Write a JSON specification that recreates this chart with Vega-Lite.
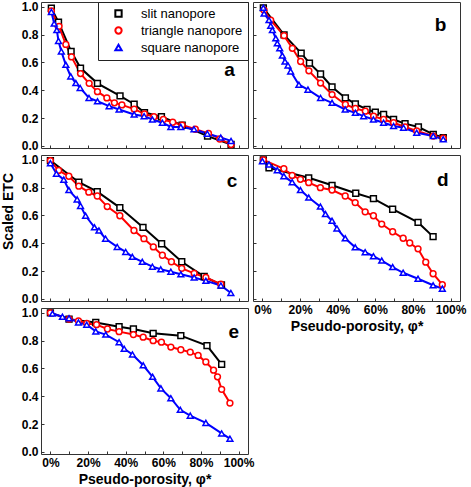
{
  "$schema": "https://vega.github.io/schema/vega-lite/v6.json",
  "padding": {"left": 0, "top": 0, "right": 0, "bottom": 0},
  "background": "white",
  "datasets": {
    "etc": [
      {"panel":"a","series":"slit nanopore","x":0.005,"y":0.99},
      {"panel":"a","series":"slit nanopore","x":0.043,"y":0.89},
      {"panel":"a","series":"slit nanopore","x":0.11,"y":0.68},
      {"panel":"a","series":"slit nanopore","x":0.16,"y":0.56},
      {"panel":"a","series":"slit nanopore","x":0.25,"y":0.45},
      {"panel":"a","series":"slit nanopore","x":0.37,"y":0.36},
      {"panel":"a","series":"slit nanopore","x":0.445,"y":0.30},
      {"panel":"a","series":"slit nanopore","x":0.50,"y":0.24},
      {"panel":"a","series":"slit nanopore","x":0.59,"y":0.21},
      {"panel":"a","series":"slit nanopore","x":0.70,"y":0.15},
      {"panel":"a","series":"slit nanopore","x":0.835,"y":0.07},
      {"panel":"a","series":"slit nanopore","x":0.96,"y":0.01},
      {"panel":"a","series":"triangle nanopore","x":0.005,"y":0.97},
      {"panel":"a","series":"triangle nanopore","x":0.046,"y":0.86},
      {"panel":"a","series":"triangle nanopore","x":0.082,"y":0.73},
      {"panel":"a","series":"triangle nanopore","x":0.112,"y":0.64},
      {"panel":"a","series":"triangle nanopore","x":0.16,"y":0.52},
      {"panel":"a","series":"triangle nanopore","x":0.206,"y":0.45},
      {"panel":"a","series":"triangle nanopore","x":0.25,"y":0.39},
      {"panel":"a","series":"triangle nanopore","x":0.30,"y":0.345},
      {"panel":"a","series":"triangle nanopore","x":0.34,"y":0.31},
      {"panel":"a","series":"triangle nanopore","x":0.38,"y":0.295},
      {"panel":"a","series":"triangle nanopore","x":0.445,"y":0.265},
      {"panel":"a","series":"triangle nanopore","x":0.50,"y":0.23},
      {"panel":"a","series":"triangle nanopore","x":0.55,"y":0.21},
      {"panel":"a","series":"triangle nanopore","x":0.60,"y":0.19},
      {"panel":"a","series":"triangle nanopore","x":0.65,"y":0.17},
      {"panel":"a","series":"triangle nanopore","x":0.70,"y":0.15},
      {"panel":"a","series":"triangle nanopore","x":0.77,"y":0.12},
      {"panel":"a","series":"triangle nanopore","x":0.84,"y":0.09},
      {"panel":"a","series":"triangle nanopore","x":0.90,"y":0.05},
      {"panel":"a","series":"triangle nanopore","x":0.96,"y":0.01},
      {"panel":"a","series":"square nanopore","x":0.005,"y":0.964},
      {"panel":"a","series":"square nanopore","x":0.02,"y":0.88},
      {"panel":"a","series":"square nanopore","x":0.034,"y":0.833},
      {"panel":"a","series":"square nanopore","x":0.043,"y":0.755},
      {"panel":"a","series":"square nanopore","x":0.058,"y":0.68},
      {"panel":"a","series":"square nanopore","x":0.082,"y":0.583},
      {"panel":"a","series":"square nanopore","x":0.108,"y":0.50},
      {"panel":"a","series":"square nanopore","x":0.135,"y":0.452},
      {"panel":"a","series":"square nanopore","x":0.158,"y":0.417},
      {"panel":"a","series":"square nanopore","x":0.205,"y":0.345},
      {"panel":"a","series":"square nanopore","x":0.25,"y":0.321},
      {"panel":"a","series":"square nanopore","x":0.312,"y":0.286},
      {"panel":"a","series":"square nanopore","x":0.365,"y":0.262},
      {"panel":"a","series":"square nanopore","x":0.445,"y":0.226},
      {"panel":"a","series":"square nanopore","x":0.498,"y":0.214},
      {"panel":"a","series":"square nanopore","x":0.542,"y":0.19},
      {"panel":"a","series":"square nanopore","x":0.595,"y":0.167},
      {"panel":"a","series":"square nanopore","x":0.64,"y":0.136},
      {"panel":"a","series":"square nanopore","x":0.693,"y":0.136},
      {"panel":"a","series":"square nanopore","x":0.763,"y":0.12},
      {"panel":"a","series":"square nanopore","x":0.834,"y":0.088},
      {"panel":"a","series":"square nanopore","x":0.905,"y":0.06},
      {"panel":"a","series":"square nanopore","x":0.96,"y":0.036},

      {"panel":"b","series":"slit nanopore","x":0.005,"y":0.993},
      {"panel":"b","series":"slit nanopore","x":0.115,"y":0.798},
      {"panel":"b","series":"slit nanopore","x":0.206,"y":0.667},
      {"panel":"b","series":"slit nanopore","x":0.25,"y":0.595},
      {"panel":"b","series":"slit nanopore","x":0.309,"y":0.517},
      {"panel":"b","series":"slit nanopore","x":0.37,"y":0.424},
      {"panel":"b","series":"slit nanopore","x":0.441,"y":0.345},
      {"panel":"b","series":"slit nanopore","x":0.494,"y":0.302},
      {"panel":"b","series":"slit nanopore","x":0.556,"y":0.262},
      {"panel":"b","series":"slit nanopore","x":0.60,"y":0.243},
      {"panel":"b","series":"slit nanopore","x":0.644,"y":0.226},
      {"panel":"b","series":"slit nanopore","x":0.697,"y":0.19},
      {"panel":"b","series":"slit nanopore","x":0.758,"y":0.16},
      {"panel":"b","series":"slit nanopore","x":0.829,"y":0.136},
      {"panel":"b","series":"slit nanopore","x":0.908,"y":0.083},
      {"panel":"b","series":"slit nanopore","x":0.961,"y":0.06},
      {"panel":"b","series":"triangle nanopore","x":0.009,"y":0.976},
      {"panel":"b","series":"triangle nanopore","x":0.044,"y":0.905},
      {"panel":"b","series":"triangle nanopore","x":0.115,"y":0.793},
      {"panel":"b","series":"triangle nanopore","x":0.159,"y":0.702},
      {"panel":"b","series":"triangle nanopore","x":0.203,"y":0.607},
      {"panel":"b","series":"triangle nanopore","x":0.247,"y":0.54},
      {"panel":"b","series":"triangle nanopore","x":0.309,"y":0.452},
      {"panel":"b","series":"triangle nanopore","x":0.37,"y":0.369},
      {"panel":"b","series":"triangle nanopore","x":0.441,"y":0.298},
      {"panel":"b","series":"triangle nanopore","x":0.494,"y":0.269},
      {"panel":"b","series":"triangle nanopore","x":0.547,"y":0.25},
      {"panel":"b","series":"triangle nanopore","x":0.591,"y":0.214},
      {"panel":"b","series":"triangle nanopore","x":0.644,"y":0.19},
      {"panel":"b","series":"triangle nanopore","x":0.697,"y":0.167},
      {"panel":"b","series":"triangle nanopore","x":0.758,"y":0.136},
      {"panel":"b","series":"triangle nanopore","x":0.82,"y":0.107},
      {"panel":"b","series":"triangle nanopore","x":0.908,"y":0.071},
      {"panel":"b","series":"triangle nanopore","x":0.961,"y":0.055},
      {"panel":"b","series":"square nanopore","x":0.005,"y":0.993},
      {"panel":"b","series":"square nanopore","x":0.009,"y":0.952},
      {"panel":"b","series":"square nanopore","x":0.035,"y":0.905},
      {"panel":"b","series":"square nanopore","x":0.044,"y":0.864},
      {"panel":"b","series":"square nanopore","x":0.053,"y":0.833},
      {"panel":"b","series":"square nanopore","x":0.071,"y":0.774},
      {"panel":"b","series":"square nanopore","x":0.079,"y":0.738},
      {"panel":"b","series":"square nanopore","x":0.092,"y":0.702},
      {"panel":"b","series":"square nanopore","x":0.106,"y":0.65},
      {"panel":"b","series":"square nanopore","x":0.12,"y":0.607},
      {"panel":"b","series":"square nanopore","x":0.136,"y":0.579},
      {"panel":"b","series":"square nanopore","x":0.15,"y":0.536},
      {"panel":"b","series":"square nanopore","x":0.194,"y":0.44},
      {"panel":"b","series":"square nanopore","x":0.242,"y":0.405},
      {"panel":"b","series":"square nanopore","x":0.309,"y":0.345},
      {"panel":"b","series":"square nanopore","x":0.37,"y":0.31},
      {"panel":"b","series":"square nanopore","x":0.44,"y":0.262},
      {"panel":"b","series":"square nanopore","x":0.494,"y":0.238},
      {"panel":"b","series":"square nanopore","x":0.538,"y":0.214},
      {"panel":"b","series":"square nanopore","x":0.59,"y":0.19},
      {"panel":"b","series":"square nanopore","x":0.644,"y":0.167},
      {"panel":"b","series":"square nanopore","x":0.697,"y":0.143},
      {"panel":"b","series":"square nanopore","x":0.75,"y":0.131},
      {"panel":"b","series":"square nanopore","x":0.82,"y":0.095},
      {"panel":"b","series":"square nanopore","x":0.908,"y":0.071},
      {"panel":"b","series":"square nanopore","x":0.961,"y":0.048},

      {"panel":"c","series":"slit nanopore","x":0.0,"y":0.995},
      {"panel":"c","series":"slit nanopore","x":0.151,"y":0.839},
      {"panel":"c","series":"slit nanopore","x":0.249,"y":0.771},
      {"panel":"c","series":"slit nanopore","x":0.369,"y":0.657},
      {"panel":"c","series":"slit nanopore","x":0.492,"y":0.515},
      {"panel":"c","series":"slit nanopore","x":0.591,"y":0.397},
      {"panel":"c","series":"slit nanopore","x":0.698,"y":0.267},
      {"panel":"c","series":"slit nanopore","x":0.817,"y":0.161},
      {"panel":"c","series":"slit nanopore","x":0.909,"y":0.10},
      {"panel":"c","series":"triangle nanopore","x":0.0,"y":0.995},
      {"panel":"c","series":"triangle nanopore","x":0.044,"y":0.924},
      {"panel":"c","series":"triangle nanopore","x":0.098,"y":0.882},
      {"panel":"c","series":"triangle nanopore","x":0.151,"y":0.811},
      {"panel":"c","series":"triangle nanopore","x":0.204,"y":0.768},
      {"panel":"c","series":"triangle nanopore","x":0.249,"y":0.74},
      {"panel":"c","series":"triangle nanopore","x":0.302,"y":0.664},
      {"panel":"c","series":"triangle nanopore","x":0.369,"y":0.598},
      {"panel":"c","series":"triangle nanopore","x":0.444,"y":0.492},
      {"panel":"c","series":"triangle nanopore","x":0.497,"y":0.433},
      {"panel":"c","series":"triangle nanopore","x":0.547,"y":0.374},
      {"panel":"c","series":"triangle nanopore","x":0.595,"y":0.314},
      {"panel":"c","series":"triangle nanopore","x":0.643,"y":0.267},
      {"panel":"c","series":"triangle nanopore","x":0.698,"y":0.22},
      {"panel":"c","series":"triangle nanopore","x":0.764,"y":0.184},
      {"panel":"c","series":"triangle nanopore","x":0.826,"y":0.154},
      {"panel":"c","series":"triangle nanopore","x":0.906,"y":0.106},
      {"panel":"c","series":"square nanopore","x":0.0,"y":0.976},
      {"panel":"c","series":"square nanopore","x":0.032,"y":0.901},
      {"panel":"c","series":"square nanopore","x":0.071,"y":0.858},
      {"panel":"c","series":"square nanopore","x":0.098,"y":0.783},
      {"panel":"c","series":"square nanopore","x":0.142,"y":0.716},
      {"panel":"c","series":"square nanopore","x":0.16,"y":0.669},
      {"panel":"c","series":"square nanopore","x":0.187,"y":0.598},
      {"panel":"c","series":"square nanopore","x":0.234,"y":0.515},
      {"panel":"c","series":"square nanopore","x":0.258,"y":0.492},
      {"panel":"c","series":"square nanopore","x":0.293,"y":0.433},
      {"panel":"c","series":"square nanopore","x":0.355,"y":0.374},
      {"panel":"c","series":"square nanopore","x":0.40,"y":0.338},
      {"panel":"c","series":"square nanopore","x":0.435,"y":0.303},
      {"panel":"c","series":"square nanopore","x":0.488,"y":0.267},
      {"panel":"c","series":"square nanopore","x":0.542,"y":0.232},
      {"panel":"c","series":"square nanopore","x":0.586,"y":0.213},
      {"panel":"c","series":"square nanopore","x":0.64,"y":0.196},
      {"panel":"c","series":"square nanopore","x":0.693,"y":0.177},
      {"panel":"c","series":"square nanopore","x":0.764,"y":0.154},
      {"panel":"c","series":"square nanopore","x":0.826,"y":0.13},
      {"panel":"c","series":"square nanopore","x":0.906,"y":0.097},
      {"panel":"c","series":"square nanopore","x":0.959,"y":0.043},

      {"panel":"d","series":"slit nanopore","x":0.005,"y":1.0},
      {"panel":"d","series":"slit nanopore","x":0.035,"y":0.943},
      {"panel":"d","series":"slit nanopore","x":0.246,"y":0.871},
      {"panel":"d","series":"slit nanopore","x":0.37,"y":0.817},
      {"panel":"d","series":"slit nanopore","x":0.496,"y":0.76},
      {"panel":"d","series":"slit nanopore","x":0.59,"y":0.721},
      {"panel":"d","series":"slit nanopore","x":0.692,"y":0.645},
      {"panel":"d","series":"slit nanopore","x":0.827,"y":0.55},
      {"panel":"d","series":"slit nanopore","x":0.907,"y":0.448},
      {"panel":"d","series":"triangle nanopore","x":0.005,"y":1.0},
      {"panel":"d","series":"triangle nanopore","x":0.114,"y":0.936},
      {"panel":"d","series":"triangle nanopore","x":0.158,"y":0.888},
      {"panel":"d","series":"triangle nanopore","x":0.202,"y":0.86},
      {"panel":"d","series":"triangle nanopore","x":0.246,"y":0.836},
      {"panel":"d","series":"triangle nanopore","x":0.308,"y":0.80},
      {"panel":"d","series":"triangle nanopore","x":0.37,"y":0.783},
      {"panel":"d","series":"triangle nanopore","x":0.44,"y":0.74},
      {"panel":"d","series":"triangle nanopore","x":0.493,"y":0.693},
      {"panel":"d","series":"triangle nanopore","x":0.546,"y":0.626},
      {"panel":"d","series":"triangle nanopore","x":0.59,"y":0.598},
      {"panel":"d","series":"triangle nanopore","x":0.634,"y":0.538},
      {"panel":"d","series":"triangle nanopore","x":0.692,"y":0.483},
      {"panel":"d","series":"triangle nanopore","x":0.748,"y":0.436},
      {"panel":"d","series":"triangle nanopore","x":0.783,"y":0.402},
      {"panel":"d","series":"triangle nanopore","x":0.827,"y":0.36},
      {"panel":"d","series":"triangle nanopore","x":0.868,"y":0.264},
      {"panel":"d","series":"triangle nanopore","x":0.907,"y":0.181},
      {"panel":"d","series":"triangle nanopore","x":0.956,"y":0.102},
      {"panel":"d","series":"square nanopore","x":0.0,"y":0.99},
      {"panel":"d","series":"square nanopore","x":0.035,"y":0.967},
      {"panel":"d","series":"square nanopore","x":0.079,"y":0.926},
      {"panel":"d","series":"square nanopore","x":0.114,"y":0.883},
      {"panel":"d","series":"square nanopore","x":0.158,"y":0.84},
      {"panel":"d","series":"square nanopore","x":0.202,"y":0.783},
      {"panel":"d","series":"square nanopore","x":0.246,"y":0.729},
      {"panel":"d","series":"square nanopore","x":0.308,"y":0.664},
      {"panel":"d","series":"square nanopore","x":0.335,"y":0.61},
      {"panel":"d","series":"square nanopore","x":0.37,"y":0.562},
      {"panel":"d","series":"square nanopore","x":0.396,"y":0.507},
      {"panel":"d","series":"square nanopore","x":0.44,"y":0.436},
      {"panel":"d","series":"square nanopore","x":0.493,"y":0.371},
      {"panel":"d","series":"square nanopore","x":0.546,"y":0.336},
      {"panel":"d","series":"square nanopore","x":0.59,"y":0.307},
      {"panel":"d","series":"square nanopore","x":0.634,"y":0.276},
      {"panel":"d","series":"square nanopore","x":0.692,"y":0.229},
      {"panel":"d","series":"square nanopore","x":0.748,"y":0.188},
      {"panel":"d","series":"square nanopore","x":0.827,"y":0.145},
      {"panel":"d","series":"square nanopore","x":0.907,"y":0.098},
      {"panel":"d","series":"square nanopore","x":0.956,"y":0.074},

      {"panel":"e","series":"slit nanopore","x":0.0,"y":1.0},
      {"panel":"e","series":"slit nanopore","x":0.099,"y":0.955},
      {"panel":"e","series":"slit nanopore","x":0.241,"y":0.931},
      {"panel":"e","series":"slit nanopore","x":0.365,"y":0.90},
      {"panel":"e","series":"slit nanopore","x":0.441,"y":0.884},
      {"panel":"e","series":"slit nanopore","x":0.546,"y":0.853},
      {"panel":"e","series":"slit nanopore","x":0.693,"y":0.836},
      {"panel":"e","series":"slit nanopore","x":0.832,"y":0.765},
      {"panel":"e","series":"slit nanopore","x":0.91,"y":0.63},
      {"panel":"e","series":"triangle nanopore","x":0.0,"y":1.0},
      {"panel":"e","series":"triangle nanopore","x":0.099,"y":0.955},
      {"panel":"e","series":"triangle nanopore","x":0.149,"y":0.943},
      {"panel":"e","series":"triangle nanopore","x":0.193,"y":0.924},
      {"panel":"e","series":"triangle nanopore","x":0.245,"y":0.915},
      {"panel":"e","series":"triangle nanopore","x":0.303,"y":0.884},
      {"panel":"e","series":"triangle nanopore","x":0.365,"y":0.865},
      {"panel":"e","series":"triangle nanopore","x":0.441,"y":0.844},
      {"panel":"e","series":"triangle nanopore","x":0.493,"y":0.825},
      {"panel":"e","series":"triangle nanopore","x":0.546,"y":0.80},
      {"panel":"e","series":"triangle nanopore","x":0.59,"y":0.789},
      {"panel":"e","series":"triangle nanopore","x":0.64,"y":0.754},
      {"panel":"e","series":"triangle nanopore","x":0.693,"y":0.735},
      {"panel":"e","series":"triangle nanopore","x":0.743,"y":0.718},
      {"panel":"e","series":"triangle nanopore","x":0.785,"y":0.694},
      {"panel":"e","series":"triangle nanopore","x":0.826,"y":0.647},
      {"panel":"e","series":"triangle nanopore","x":0.867,"y":0.588},
      {"panel":"e","series":"triangle nanopore","x":0.888,"y":0.54},
      {"panel":"e","series":"triangle nanopore","x":0.91,"y":0.45},
      {"panel":"e","series":"triangle nanopore","x":0.954,"y":0.351},
      {"panel":"e","series":"square nanopore","x":0.011,"y":0.995},
      {"panel":"e","series":"square nanopore","x":0.064,"y":0.972},
      {"panel":"e","series":"square nanopore","x":0.099,"y":0.962},
      {"panel":"e","series":"square nanopore","x":0.149,"y":0.931},
      {"panel":"e","series":"square nanopore","x":0.193,"y":0.915},
      {"panel":"e","series":"square nanopore","x":0.241,"y":0.867},
      {"panel":"e","series":"square nanopore","x":0.294,"y":0.844},
      {"panel":"e","series":"square nanopore","x":0.365,"y":0.789},
      {"panel":"e","series":"square nanopore","x":0.392,"y":0.742},
      {"panel":"e","series":"square nanopore","x":0.436,"y":0.701},
      {"panel":"e","series":"square nanopore","x":0.493,"y":0.623},
      {"panel":"e","series":"square nanopore","x":0.543,"y":0.54},
      {"panel":"e","series":"square nanopore","x":0.587,"y":0.457},
      {"panel":"e","series":"square nanopore","x":0.64,"y":0.386},
      {"panel":"e","series":"square nanopore","x":0.69,"y":0.303},
      {"panel":"e","series":"square nanopore","x":0.743,"y":0.261},
      {"panel":"e","series":"square nanopore","x":0.826,"y":0.209},
      {"panel":"e","series":"square nanopore","x":0.91,"y":0.133},
      {"panel":"e","series":"square nanopore","x":0.954,"y":0.095}
    ]
  },
  "resolve": {"legend": {"color": "independent", "shape": "independent"}},
  "bounds": "flush",
  "columns": 2,
  "spacing": {"row": 7, "column": 5},
  "concat": [
    {
      "width": 207, "height": 146,
      "data": {"name": "etc"},
      "transform": [{"filter": "datum.panel === 'a'"}],
      "layer": [
        {"mark": {"type": "line", "strokeWidth": 2},
         "encoding": {
           "x": {"field": "x", "type": "quantitative", "scale": {"domain": [-0.05, 1.05], "nice": false, "zero": false}, "axis": {"values": [0,0.1,0.2,0.3,0.4,0.5,0.6,0.7,0.8,0.9,1], "labels": false, "title": null}},
           "y": {"field": "y", "type": "quantitative", "scale": {"domain": [-0.015, 1.035], "nice": false, "zero": false}, "axis": {"values": [0,0.2,0.4,0.6,0.8,1], "format": ".1f", "title": null}},
           "color": {"field": "series", "type": "nominal", "scale": {"domain": ["slit nanopore","triangle nanopore","square nanopore"], "range": ["#000000","#ff0000","#0000ff"]}}}},
        {"mark": {"type": "point", "filled": false, "fill": "white", "strokeWidth": 1.5, "size": 34, "opacity": 1},
         "encoding": {
           "x": {"field": "x", "type": "quantitative", "axis": {"values": [0,0.1,0.2,0.3,0.4,0.5,0.6,0.7,0.8,0.9,1], "labels": false, "title": null}},
           "y": {"field": "y", "type": "quantitative", "axis": {"values": [0,0.2,0.4,0.6,0.8,1], "format": ".1f", "title": null}},
           "color": {"field": "series", "type": "nominal", "scale": {"domain": ["slit nanopore","triangle nanopore","square nanopore"], "range": ["#000000","#ff0000","#0000ff"]},
             "legend": {"title": null, "orient": "top-right", "offset": 0, "strokeColor": "#222", "fillColor": "white", "padding": 5, "labelFont": "Liberation Sans", "labelFontSize": 13, "labelFontWeight": "normal", "labelColor": "#000", "symbolSize": 40, "symbolStrokeWidth": 2, "symbolOffset": 9, "labelOffset": 16, "rowPadding": 2}},
           "shape": {"field": "series", "type": "nominal", "scale": {"domain": ["slit nanopore","triangle nanopore","square nanopore"], "range": ["square","circle","triangle-up"]},
             "legend": {"title": null, "orient": "top-right", "offset": 0, "strokeColor": "#222", "fillColor": "white", "padding": 5, "labelFont": "Liberation Sans", "labelFontSize": 13, "labelFontWeight": "normal", "labelColor": "#000", "symbolSize": 40, "symbolStrokeWidth": 2, "symbolOffset": 9, "labelOffset": 16, "rowPadding": 2}}
         }},
        {"transform": [{"aggregate": [{"op": "count", "as": "n"}]}],
         "mark": {"type": "text", "font": "Liberation Sans", "fontSize": 19, "fontWeight": "bold", "align": "center", "baseline": "middle", "color": "#000"},
         "encoding": {
           "x": {"datum": 0.952, "type": "quantitative", "axis": {"values": [0,0.1,0.2,0.3,0.4,0.5,0.6,0.7,0.8,0.9,1], "labels": false, "title": null}},
           "y": {"datum": 0.543, "type": "quantitative", "axis": {"values": [0,0.2,0.4,0.6,0.8,1], "format": ".1f", "title": null}},
           "text": {"value": "a"}}}
      ]
    },
    {
      "width": 207, "height": 146,
      "data": {"name": "etc"},
      "transform": [{"filter": "datum.panel === 'b'"}],
      "layer": [
        {"mark": {"type": "line", "strokeWidth": 2},
         "encoding": {
           "x": {"field": "x", "type": "quantitative", "scale": {"domain": [-0.05, 1.05], "nice": false, "zero": false}, "axis": {"values": [0,0.1,0.2,0.3,0.4,0.5,0.6,0.7,0.8,0.9,1], "labels": false, "title": null}},
           "y": {"field": "y", "type": "quantitative", "scale": {"domain": [-0.015, 1.035], "nice": false, "zero": false}, "axis": {"values": [0,0.2,0.4,0.6,0.8,1], "labels": false, "title": null}},
           "color": {"field": "series", "type": "nominal", "scale": {"domain": ["slit nanopore","triangle nanopore","square nanopore"], "range": ["#000000","#ff0000","#0000ff"]}, "legend": null}}},
        {"mark": {"type": "point", "filled": false, "fill": "white", "strokeWidth": 1.5, "size": 34, "opacity": 1},
         "encoding": {
           "x": {"field": "x", "type": "quantitative", "axis": {"values": [0,0.1,0.2,0.3,0.4,0.5,0.6,0.7,0.8,0.9,1], "labels": false, "title": null}},
           "y": {"field": "y", "type": "quantitative", "axis": {"values": [0,0.2,0.4,0.6,0.8,1], "labels": false, "title": null}},
           "color": {"field": "series", "type": "nominal", "scale": {"domain": ["slit nanopore","triangle nanopore","square nanopore"], "range": ["#000000","#ff0000","#0000ff"]}, "legend": null},
           "shape": {"field": "series", "type": "nominal", "scale": {"domain": ["slit nanopore","triangle nanopore","square nanopore"], "range": ["square","circle","triangle-up"]}, "legend": null}
         }},
        {"transform": [{"aggregate": [{"op": "count", "as": "n"}]}],
         "mark": {"type": "text", "font": "Liberation Sans", "fontSize": 19, "fontWeight": "bold", "align": "center", "baseline": "middle", "color": "#000"},
         "encoding": {
           "x": {"datum": 0.947, "type": "quantitative", "axis": {"values": [0,0.1,0.2,0.3,0.4,0.5,0.6,0.7,0.8,0.9,1], "labels": false, "title": null}},
           "y": {"datum": 0.87, "type": "quantitative", "axis": {"values": [0,0.2,0.4,0.6,0.8,1], "labels": false, "title": null}},
           "text": {"value": "b"}}}
      ]
    },
    {
      "width": 207, "height": 146,
      "data": {"name": "etc"},
      "transform": [{"filter": "datum.panel === 'c'"}],
      "layer": [
        {"mark": {"type": "line", "strokeWidth": 2},
         "encoding": {
           "x": {"field": "x", "type": "quantitative", "scale": {"domain": [-0.05, 1.05], "nice": false, "zero": false}, "axis": {"values": [0,0.1,0.2,0.3,0.4,0.5,0.6,0.7,0.8,0.9,1], "labels": false, "title": null}},
           "y": {"field": "y", "type": "quantitative", "scale": {"domain": [-0.015, 1.035], "nice": false, "zero": false}, "axis": {"values": [0,0.2,0.4,0.6,0.8,1], "format": ".1f", "title": "Scaled ETC", "titleY": 56, "titlePadding": 6}},
           "color": {"field": "series", "type": "nominal", "scale": {"domain": ["slit nanopore","triangle nanopore","square nanopore"], "range": ["#000000","#ff0000","#0000ff"]}, "legend": null}}},
        {"mark": {"type": "point", "filled": false, "fill": "white", "strokeWidth": 1.5, "size": 34, "opacity": 1},
         "encoding": {
           "x": {"field": "x", "type": "quantitative", "axis": {"values": [0,0.1,0.2,0.3,0.4,0.5,0.6,0.7,0.8,0.9,1], "labels": false, "title": null}},
           "y": {"field": "y", "type": "quantitative", "axis": {"values": [0,0.2,0.4,0.6,0.8,1], "format": ".1f", "title": "Scaled ETC", "titleY": 56, "titlePadding": 6}},
           "color": {"field": "series", "type": "nominal", "scale": {"domain": ["slit nanopore","triangle nanopore","square nanopore"], "range": ["#000000","#ff0000","#0000ff"]}, "legend": null},
           "shape": {"field": "series", "type": "nominal", "scale": {"domain": ["slit nanopore","triangle nanopore","square nanopore"], "range": ["square","circle","triangle-up"]}, "legend": null}
         }},
        {"transform": [{"aggregate": [{"op": "count", "as": "n"}]}],
         "mark": {"type": "text", "font": "Liberation Sans", "fontSize": 19, "fontWeight": "bold", "align": "center", "baseline": "middle", "color": "#000"},
         "encoding": {
           "x": {"datum": 0.965, "type": "quantitative", "axis": {"values": [0,0.1,0.2,0.3,0.4,0.5,0.6,0.7,0.8,0.9,1], "labels": false, "title": null}},
           "y": {"datum": 0.85, "type": "quantitative", "axis": {"values": [0,0.2,0.4,0.6,0.8,1], "format": ".1f", "title": "Scaled ETC", "titleY": 56, "titlePadding": 6}},
           "text": {"value": "c"}}}
      ]
    },
    {
      "width": 207, "height": 146,
      "data": {"name": "etc"},
      "transform": [{"filter": "datum.panel === 'd'"}],
      "layer": [
        {"mark": {"type": "line", "strokeWidth": 2},
         "encoding": {
           "x": {"field": "x", "type": "quantitative", "scale": {"domain": [-0.05, 1.05], "nice": false, "zero": false}, "axis": {"values": [0,0.1,0.2,0.3,0.4,0.5,0.6,0.7,0.8,0.9,1], "format": ".0%", "labelExpr": "round(datum.value * 10) % 2 === 0 ? datum.label : ''", "labelFlush": false, "title": "Pseudo-porosity, φ*"}},
           "y": {"field": "y", "type": "quantitative", "scale": {"domain": [-0.015, 1.035], "nice": false, "zero": false}, "axis": {"values": [0,0.2,0.4,0.6,0.8,1], "labels": false, "title": null}},
           "color": {"field": "series", "type": "nominal", "scale": {"domain": ["slit nanopore","triangle nanopore","square nanopore"], "range": ["#000000","#ff0000","#0000ff"]}, "legend": null}}},
        {"mark": {"type": "point", "filled": false, "fill": "white", "strokeWidth": 1.5, "size": 34, "opacity": 1},
         "encoding": {
           "x": {"field": "x", "type": "quantitative", "axis": {"values": [0,0.1,0.2,0.3,0.4,0.5,0.6,0.7,0.8,0.9,1], "format": ".0%", "labelExpr": "round(datum.value * 10) % 2 === 0 ? datum.label : ''", "labelFlush": false, "title": "Pseudo-porosity, φ*"}},
           "y": {"field": "y", "type": "quantitative", "axis": {"values": [0,0.2,0.4,0.6,0.8,1], "labels": false, "title": null}},
           "color": {"field": "series", "type": "nominal", "scale": {"domain": ["slit nanopore","triangle nanopore","square nanopore"], "range": ["#000000","#ff0000","#0000ff"]}, "legend": null},
           "shape": {"field": "series", "type": "nominal", "scale": {"domain": ["slit nanopore","triangle nanopore","square nanopore"], "range": ["square","circle","triangle-up"]}, "legend": null}
         }},
        {"transform": [{"aggregate": [{"op": "count", "as": "n"}]}],
         "mark": {"type": "text", "font": "Liberation Sans", "fontSize": 19, "fontWeight": "bold", "align": "center", "baseline": "middle", "color": "#000"},
         "encoding": {
           "x": {"datum": 0.958, "type": "quantitative", "axis": {"values": [0,0.1,0.2,0.3,0.4,0.5,0.6,0.7,0.8,0.9,1], "format": ".0%", "labelExpr": "round(datum.value * 10) % 2 === 0 ? datum.label : ''", "labelFlush": false, "title": "Pseudo-porosity, φ*"}},
           "y": {"datum": 0.857, "type": "quantitative", "axis": {"values": [0,0.2,0.4,0.6,0.8,1], "labels": false, "title": null}},
           "text": {"value": "d"}}}
      ]
    },
    {
      "width": 207, "height": 146,
      "data": {"name": "etc"},
      "transform": [{"filter": "datum.panel === 'e'"}],
      "layer": [
        {"mark": {"type": "line", "strokeWidth": 2},
         "encoding": {
           "x": {"field": "x", "type": "quantitative", "scale": {"domain": [-0.05, 1.05], "nice": false, "zero": false}, "axis": {"values": [0,0.1,0.2,0.3,0.4,0.5,0.6,0.7,0.8,0.9,1], "format": ".0%", "labelExpr": "round(datum.value * 10) % 2 === 0 ? datum.label : ''", "labelFlush": false, "title": "Pseudo-porosity, φ*"}},
           "y": {"field": "y", "type": "quantitative", "scale": {"domain": [-0.015, 1.035], "nice": false, "zero": false}, "axis": {"values": [0,0.2,0.4,0.6,0.8,1], "format": ".1f", "title": null}},
           "color": {"field": "series", "type": "nominal", "scale": {"domain": ["slit nanopore","triangle nanopore","square nanopore"], "range": ["#000000","#ff0000","#0000ff"]}, "legend": null}}},
        {"mark": {"type": "point", "filled": false, "fill": "white", "strokeWidth": 1.5, "size": 34, "opacity": 1},
         "encoding": {
           "x": {"field": "x", "type": "quantitative", "axis": {"values": [0,0.1,0.2,0.3,0.4,0.5,0.6,0.7,0.8,0.9,1], "format": ".0%", "labelExpr": "round(datum.value * 10) % 2 === 0 ? datum.label : ''", "labelFlush": false, "title": "Pseudo-porosity, φ*"}},
           "y": {"field": "y", "type": "quantitative", "axis": {"values": [0,0.2,0.4,0.6,0.8,1], "format": ".1f", "title": null}},
           "color": {"field": "series", "type": "nominal", "scale": {"domain": ["slit nanopore","triangle nanopore","square nanopore"], "range": ["#000000","#ff0000","#0000ff"]}, "legend": null},
           "shape": {"field": "series", "type": "nominal", "scale": {"domain": ["slit nanopore","triangle nanopore","square nanopore"], "range": ["square","circle","triangle-up"]}, "legend": null}
         }},
        {"transform": [{"aggregate": [{"op": "count", "as": "n"}]}],
         "mark": {"type": "text", "font": "Liberation Sans", "fontSize": 19, "fontWeight": "bold", "align": "center", "baseline": "middle", "color": "#000"},
         "encoding": {
           "x": {"datum": 0.975, "type": "quantitative", "axis": {"values": [0,0.1,0.2,0.3,0.4,0.5,0.6,0.7,0.8,0.9,1], "format": ".0%", "labelExpr": "round(datum.value * 10) % 2 === 0 ? datum.label : ''", "labelFlush": false, "title": "Pseudo-porosity, φ*"}},
           "y": {"datum": 0.865, "type": "quantitative", "axis": {"values": [0,0.2,0.4,0.6,0.8,1], "format": ".1f", "title": null}},
           "text": {"value": "e"}}}
      ]
    }
  ],
  "config": {
    "view": {"stroke": "#333333", "strokeWidth": 1},
    "axis": {"domain": false, "grid": false, "ticks": true, "tickColor": "#333333", "tickSize": -3, "tickWidth": 1, "labelPadding": 6, "labelOverlap": false, "labelFont": "Liberation Sans", "labelFontSize": 12, "labelFontWeight": "bold", "labelColor": "#000000", "titleFont": "Liberation Sans", "titleFontSize": 14, "titleFontWeight": "bold", "titleColor": "#000000"},
    "text": {"font": "Liberation Sans"}
  }
}
